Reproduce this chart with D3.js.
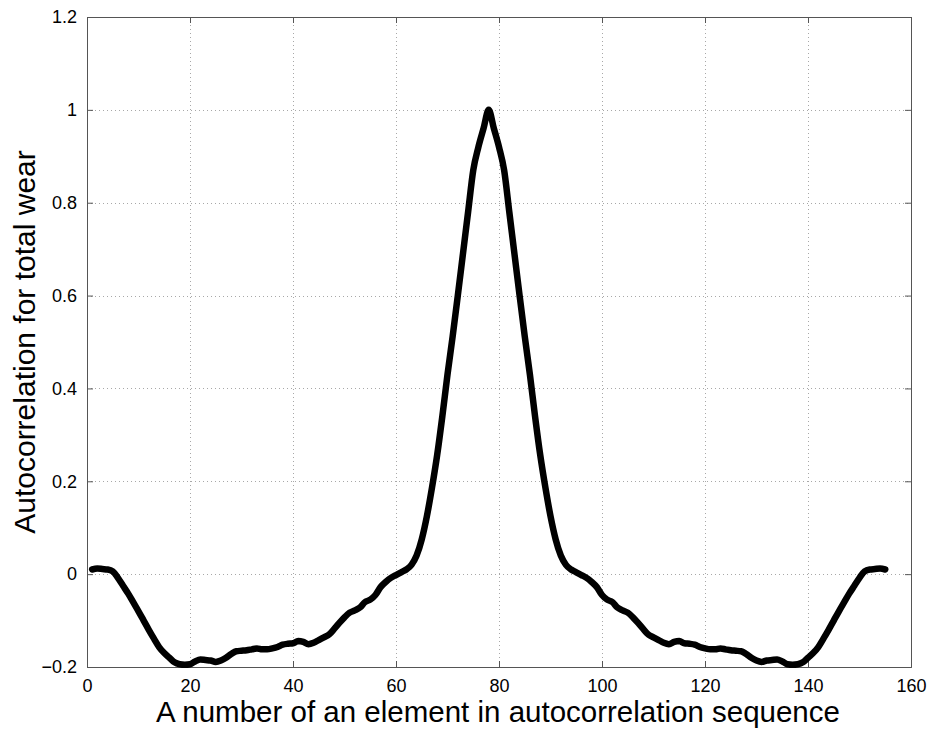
<!DOCTYPE html>
<html>
<head>
<meta charset="utf-8">
<script src="https://cdn.jsdelivr.net/npm/d3@7/dist/d3.min.js"></script>
<style>
  html, body { margin: 0; padding: 0; background: #fff; }
  svg { display: block; }
  text { font-family: Arial, "Liberation Sans", Helvetica, sans-serif; fill: #000; }
</style>
</head>
<body>
<svg id="chart" width="930" height="733"></svg>
<script>
// ---- data ----
const lags = d3.range(1, 156); // element index 1..155
const autocorr = [
  0.010, 0.012, 0.011, 0.010, 0.006, -0.008, -0.025, -0.042, -0.061, -0.080,
  -0.100, -0.120, -0.139, -0.157, -0.170, -0.180, -0.190, -0.194, -0.195, -0.194,
  -0.188, -0.184, -0.185, -0.186, -0.189, -0.186, -0.180, -0.172, -0.166, -0.165,
  -0.164, -0.162, -0.160, -0.162, -0.162, -0.160, -0.157, -0.152, -0.150, -0.149,
  -0.144, -0.146, -0.151, -0.148, -0.142, -0.136, -0.130, -0.118, -0.105, -0.093,
  -0.083, -0.078, -0.072, -0.060, -0.055, -0.045, -0.028, -0.017, -0.008, -0.002,
  0.004, 0.010, 0.020, 0.040, 0.075, 0.125, 0.187, 0.257, 0.340, 0.430,
  0.512, 0.600, 0.690, 0.780, 0.870, 0.920, 0.960, 1.000,
  0.960, 0.920, 0.870, 0.780, 0.690, 0.600, 0.512, 0.430, 0.340, 0.257,
  0.187, 0.125, 0.075, 0.040, 0.020, 0.010, 0.004, -0.002, -0.008, -0.017,
  -0.028, -0.045, -0.055, -0.060, -0.072, -0.078, -0.083, -0.093, -0.105, -0.118,
  -0.130, -0.136, -0.142, -0.148, -0.151, -0.146, -0.144, -0.149, -0.150, -0.152,
  -0.157, -0.160, -0.162, -0.162, -0.160, -0.162, -0.164, -0.165, -0.166, -0.172,
  -0.180, -0.186, -0.189, -0.186, -0.185, -0.184, -0.188, -0.194, -0.195, -0.194,
  -0.190, -0.180, -0.170, -0.157, -0.139, -0.120, -0.100, -0.080, -0.061, -0.042,
  -0.025, -0.008, 0.006, 0.010, 0.011, 0.012, 0.010
];
const xTicks = [0, 20, 40, 60, 80, 100, 120, 140, 160];
const yTicks = [-0.2, 0, 0.2, 0.4, 0.6, 0.8, 1, 1.2];
const xLabel = "A number of an element in autocorrelation sequence";
const yLabel = "Autocorrelation for total wear";

// ---- layout ----
const L = 87, R = 911, T = 17, B = 667;
const svg = d3.select("#chart");
const x = d3.scaleLinear().domain([0, 160]).range([L, R]);
const y = d3.scaleLinear().domain([-0.2, 1.2]).range([B, T]);

// grid
const grid = svg.append("g");
grid.selectAll("line.vx").data(xTicks.slice(1, -1)).join("line")
  .attr("x1", d => Math.round(x(d)) + 0.5).attr("x2", d => Math.round(x(d)) + 0.5)
  .attr("y1", T).attr("y2", B)
  .attr("stroke", "#a8a8a8").attr("stroke-width", 1).attr("stroke-dasharray", "1,3");
grid.selectAll("line.hy").data(yTicks.slice(1, -1)).join("line")
  .attr("y1", d => Math.round(y(d)) + 0.5).attr("y2", d => Math.round(y(d)) + 0.5)
  .attr("x1", L).attr("x2", R)
  .attr("stroke", "#a8a8a8").attr("stroke-width", 1).attr("stroke-dasharray", "1,3");

// axes (MATLAB style, inward ticks, box)
const fmt = d => (Math.abs(d) < 1e-9 ? "0" : d3.format("")(+d.toFixed(1)));
const axB = d3.axisBottom(x).tickValues(xTicks).tickSize(-6).tickPadding(12).tickFormat(d => d);
const axL = d3.axisLeft(y).tickValues(yTicks).tickSize(-6).tickPadding(10).tickFormat(fmt);
const axT = d3.axisTop(x).tickValues(xTicks).tickSize(-6).tickFormat("");
const axR = d3.axisRight(y).tickValues(yTicks).tickSize(-6).tickFormat("");

function style(g) {
  g.select(".domain").attr("stroke", "#555");
  g.selectAll(".tick line").attr("stroke", "#555");
  g.selectAll(".tick text").attr("font-size", 18).attr("fill", "#000")
    .attr("font-family", "Arial, 'Liberation Sans', sans-serif");
}
svg.append("g").attr("transform", `translate(0,${B})`).call(axB).call(style);
svg.append("g").attr("transform", `translate(${L},0)`).call(axL).call(style);
svg.append("g").attr("transform", `translate(0,${T})`).call(axT).call(style);
svg.append("g").attr("transform", `translate(${R},0)`).call(axR).call(style);

// curve
const line = d3.line().x((d, i) => x(lags[i])).y(d => y(d)).curve(d3.curveMonotoneX);
svg.append("path").datum(autocorr)
  .attr("d", line).attr("fill", "none")
  .attr("stroke", "#000").attr("stroke-width", 6.5)
  .attr("stroke-linejoin", "round").attr("stroke-linecap", "round");

// labels
svg.append("text").attr("x", (L + R) / 2 - 1).attr("y", 722)
  .attr("text-anchor", "middle").attr("font-size", 29.5).text(xLabel);
svg.append("text").attr("transform", `translate(35,${(T + B) / 2}) rotate(-90)`)
  .attr("text-anchor", "middle").attr("font-size", 30).text(yLabel);
</script>
</body>
</html>
